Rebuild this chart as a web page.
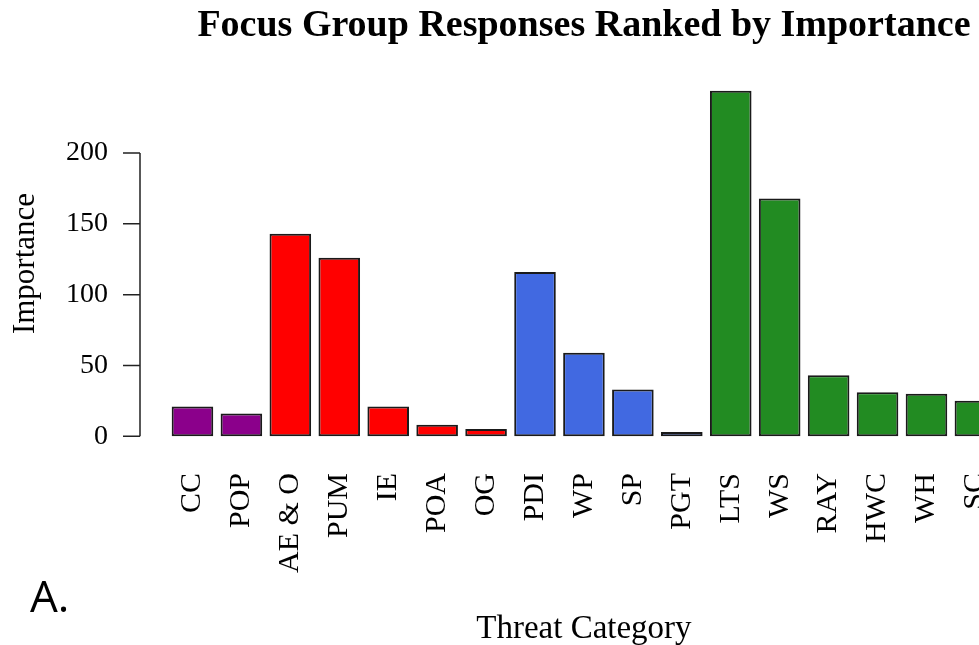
<!DOCTYPE html>
<html>
<head>
<meta charset="utf-8">
<script src="https://cdn.jsdelivr.net/npm/chart.js@4/dist/chart.umd.min.js"></script>
<style>
  html, body { margin: 0; padding: 0; background: #fff; overflow: hidden; }
  #wrap { position: relative; width: 979px; height: 645px; overflow: hidden; }
  #panel { position: absolute; left: 30px; top: 565px; font: 44px "Open Sans", sans-serif; color: #000; }
</style>
</head>
<body>
<div id="wrap">
  <canvas id="myChart" width="1035" height="649"></canvas>
  <div id="panel">A.</div>
</div>
<script>
const categories = ["CC", "POP", "AE & O", "PUM", "IE", "POA", "OG", "PDI", "WP", "SP", "PGT", "LTS", "WS", "RAY", "HWC", "WH", "SC"];
const importance = [21, 16, 143, 126, 21, 8, 5, 116, 59, 33, 3, 244, 168, 43, 31, 30, 25];
const barColors = [
    "#8B008B", "#8B008B",
    "#FF0000", "#FF0000", "#FF0000", "#FF0000", "#FF0000",
    "#4169E1", "#4169E1", "#4169E1", "#4169E1",
    "#228B22", "#228B22", "#228B22", "#228B22", "#228B22", "#228B22",
];
const yTicks = [0, 50, 100, 150, 200];
const chartTitle = "Focus Group Responses Ranked by Importance";

// R-style axis: line only across the tick range, ticks pointing outwards
const rAxis = {
    id: "rAxis",
    afterDraw(chart) {
        const ctx = chart.ctx;
        const y = chart.scales.y;
        const x0 = 140;
        ctx.save();
        ctx.strokeStyle = "#222";
        ctx.lineWidth = 1.5;
        ctx.beginPath();
        ctx.moveTo(x0, y.getPixelForValue(yTicks[0]));
        ctx.lineTo(x0, y.getPixelForValue(yTicks[yTicks.length - 1]));
        yTicks.forEach((v) => {
            const py = y.getPixelForValue(v);
            ctx.moveTo(x0, py);
            ctx.lineTo(x0 - 17, py);
        });
        ctx.stroke();

        // main title, centred on the plot region
        const area = chart.chartArea;
        ctx.fillStyle = "#000";
        ctx.font = "bold 38px 'Liberation Serif', 'Times New Roman', serif";
        ctx.textAlign = "center";
        ctx.textBaseline = "middle";
        ctx.fillText(chartTitle, (area.left + area.right) / 2, 26);
        ctx.restore();
    },
};

const ctx = document.getElementById("myChart").getContext("2d");
const chart = new window.Chart(ctx, {
    type: "bar",
    data: {
        labels: categories,
        datasets: [
            {
                label: "Importance",
                data: importance,
                backgroundColor: barColors,
                borderColor: "#1a1a1a",
                borderWidth: 2,
                borderSkipped: false,
                barPercentage: 0.85,
                categoryPercentage: 1,
            },
        ],
    },
    options: {
        responsive: false,
        animation: false,
        layout: {
            padding: { top: 77, right: 20, bottom: 0, left: 0 },
        },
        plugins: {
            legend: { display: false },
            tooltip: { enabled: false },
        },
        scales: {
            x: {
                grid: { display: false, drawTicks: false },
                border: { display: false },
                ticks: {
                    minRotation: 90,
                    maxRotation: 90,
                    autoSkip: false,
                    padding: 23,
                    color: "#000",
                    font: { family: "'Liberation Serif', 'Times New Roman', serif", size: 30 },
                },
                title: {
                    display: true,
                    text: "Threat Category",
                    color: "#000",
                    padding: { top: 0, bottom: 0 },
                    font: { family: "'Liberation Serif', 'Times New Roman', serif", size: 33 },
                },
                afterFit: (s) => {
                    s.height = 199;
                },
            },
            y: {
                min: -9.76,
                max: 253.76,
                grid: { display: false, drawTicks: false },
                border: { display: false },
                afterBuildTicks: (s) => {
                    s.ticks = yTicks.map((v) => ({ value: v }));
                },
                ticks: {
                    padding: 60,
                    color: "#000",
                    font: { family: "'Liberation Serif', 'Times New Roman', serif", size: 28 },
                },
                title: {
                    display: true,
                    text: "Importance",
                    color: "#000",
                    padding: { top: 7, bottom: 0 },
                    font: { family: "'Liberation Serif', 'Times New Roman', serif", size: 31 },
                },
                afterFit: (s) => {
                    s.width = 168;
                },
            },
        },
    },
    plugins: [rAxis],
});
</script>
</body>
</html>
